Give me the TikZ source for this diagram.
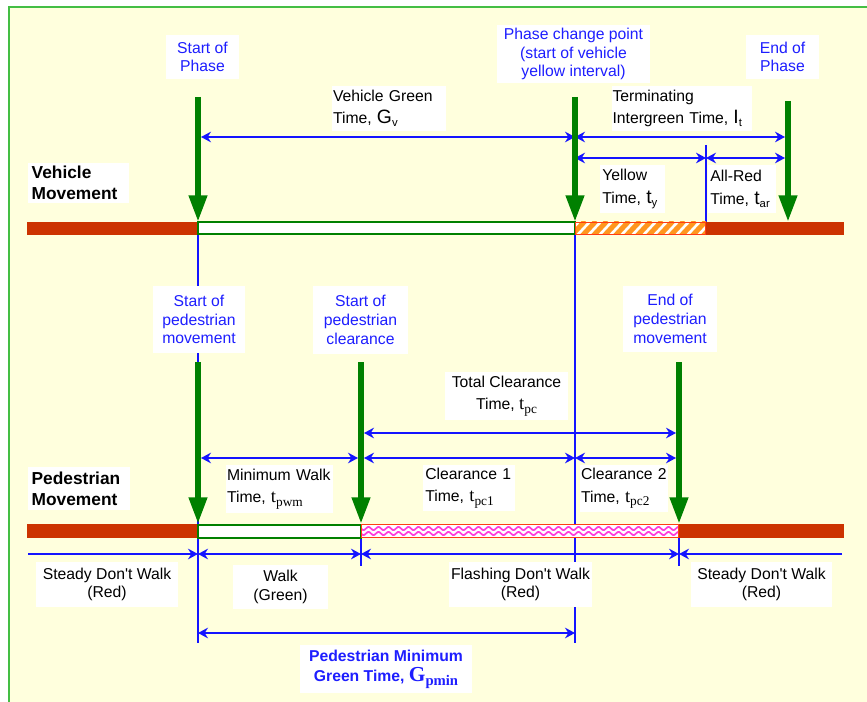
\documentclass[tikz,border=0pt]{standalone}
\usepackage{fontspec}
\setmainfont{Liberation Sans}
\newfontfamily\seriffam{Liberation Serif}
\usetikzlibrary{arrows.meta}
\definecolor{bgyel}{RGB}{255,255,221}
\definecolor{frgreen}{RGB}{68,190,68}
\definecolor{barred}{RGB}{204,51,0}
\definecolor{garr}{RGB}{0,128,0}
\definecolor{lblue}{RGB}{20,20,255}
\definecolor{tblue}{RGB}{30,30,255}
\definecolor{hborder}{RGB}{255,60,20}
\definecolor{horange}{RGB}{255,150,30}
\definecolor{pinkw}{RGB}{255,60,220}
\newcommand\sbs[1]{\raisebox{-0.4ex}{\fontsize{8.5}{10}\selectfont #1}}
\newcommand\bigsym[1]{{\fontsize{14.5}{14}\selectfont #1}}
\newcommand\sertee[1]{{\seriffam\fontsize{14}{14}\selectfont t\raisebox{-0.4ex}{\fontsize{10}{10}\selectfont #1}}}
\newcommand\apos{\textquotesingle}
\begin{document}
\begin{tikzpicture}[x=0.75pt,y=-0.75pt,
  lbl/.style={fill=white, inner sep=0pt, font=\fontsize{11.8}{14}\selectfont, align=center},
  lblL/.style={lbl, align=left},
  bt/.style={text=tblue},
  sz/.style 2 args={minimum width=#1*0.75pt, minimum height=#2*0.75pt},
  lsz/.style 2 args={text width=(#1-2)*0.75pt, inner xsep=1*0.75pt, minimum height=#2*0.75pt},
  garrow/.style={draw=garr, line width=4.5pt, -{Triangle[length=20pt,width=13pt]}},
  dimln/.style={draw=lblue, line width=1.5pt},
  bothh/.style={dimln, {Stealth[length=7.5pt,width=8pt,inset=2.5pt]}-{Stealth[length=7.5pt,width=8pt,inset=2.5pt]}},
  oneh/.style={dimln, -{Stealth[length=7.5pt,width=8pt,inset=2.5pt]}},
  vln/.style={draw=lblue, line width=1.1pt},
  greenbox/.style={fill=white, draw=garr, line width=1.5pt},
]
\useasboundingbox (0,0) rectangle (867,702);
% background
\fill[white] (0,0) rectangle (867,702);
\filldraw[fill=bgyel, draw=frgreen, line width=1.5pt] (9,7) rectangle (880,715);

% ---------- coordinates ----------
\coordinate (G1s) at (198,97);  \coordinate (G1e) at (198,222);
\coordinate (G2s) at (575,97);  \coordinate (G2e) at (575,222);
\coordinate (G3s) at (788,101); \coordinate (G3e) at (788,222);
\coordinate (P1s) at (198,362); \coordinate (P1e) at (198,524);
\coordinate (P2s) at (361,362); \coordinate (P2e) at (361,524);
\coordinate (P3s) at (679,362); \coordinate (P3e) at (679,524);

% ---------- vertical thin blue lines ----------
\coordinate (V198t) at (198,235); \coordinate (V198b) at (198,643);
\coordinate (V575t) at (575,235); \coordinate (V575b) at (575,643);
\coordinate (V706t) at (706,145); \coordinate (V706b) at (706,222);
\coordinate (V361t) at (361,538); \coordinate (V361b) at (361,566);
\coordinate (V679t) at (679,538); \coordinate (V679b) at (679,566);
\draw[vln] (V198t) -- (V198b);
\draw[vln] (V575t) -- (V575b);
\draw[vln] (V706t) -- (V706b);
\draw[vln] (V361t) -- (V361b);
\draw[vln] (V679t) -- (V679b);

% ---------- bars ----------
% vehicle
\fill[barred] (27,222) rectangle (198,235);
\draw[greenbox] (198,222.5) rectangle (575,234.5);
\begin{scope}
  \clip (575,222) rectangle (706,235);
  \fill[white] (575,222) rectangle (706,235);
  \foreach \x in {560,571,...,720} \draw[horange, line width=3.8pt] (\x,236) -- (\x+14,221);
\end{scope}
\draw[hborder, line width=1.3pt] (575.5,222.5) rectangle (705.5,234.5);
\fill[barred] (706,222) rectangle (844,235);
% pedestrian
\fill[barred] (27,524) rectangle (198,538);
\draw[greenbox] (198,524.5) rectangle (361,537.5);
\begin{scope}
  \clip (361,524) rectangle (679,538);
  \fill[white] (361,524) rectangle (679,538);
  \draw[pinkw, line width=1.3pt] plot[domain=0:318, samples=320] ({\x+361},{528.5+1.6*sin(36*\x)});
  \draw[pinkw, line width=1.3pt] plot[domain=0:318, samples=320] ({\x+361},{533.5+1.6*sin(36*\x)});
\end{scope}
\draw[hborder, line width=1.3pt] (361.5,524.5) rectangle (678.5,537.5);
\fill[barred] (679,524) rectangle (844,538);

% ---------- dimension arrows ----------
\coordinate (A1l) at (201,137); \coordinate (A1m) at (575,137); \coordinate (A1r) at (785,137);
\coordinate (A2l) at (575,158); \coordinate (A2m) at (706,158); \coordinate (A2r) at (785,158);
\draw[bothh] (A1l) -- (A1m);
\draw[bothh] (A1m) -- (A1r);
\draw[bothh] (A2l) -- (A2m);
\draw[bothh] (A2m) -- (A2r);
\coordinate (T1l) at (364,433); \coordinate (T1r) at (676,433);
\draw[bothh] (T1l) -- (T1r);
\coordinate (M1a) at (201,458); \coordinate (M1b) at (358,458);
\coordinate (M1c) at (364,458); \coordinate (M1d) at (575,458); \coordinate (M1e) at (676,458);
\draw[bothh] (M1a) -- (M1b);
\draw[bothh] (M1c) -- (M1d);
\draw[bothh] (M1d) -- (M1e);
\coordinate (B0) at (28,554); \coordinate (B1) at (198,554); \coordinate (B2) at (361,554);
\coordinate (B3) at (679,554); \coordinate (B4) at (842,554);
\draw[oneh] (B0) -- (B1);
\draw[bothh] (B1) -- (B2);
\draw[bothh] (B2) -- (B3);
\draw[oneh] (B4) -- (B3);
\coordinate (Gl) at (198,633); \coordinate (Gr) at (575,633);
\draw[bothh] (Gl) -- (Gr);

% ---------- green arrows ----------
\draw[garrow] (G1s) -- (G1e);
\draw[garrow] (G2s) -- (G2e);
\draw[garrow] (G3s) -- (G3e);
\draw[garrow] (P1s) -- (P1e);
\draw[garrow] (P2s) -- (P2e);
\draw[garrow] (P3s) -- (P3e);

% ---------- labels ----------
\node[lbl,bt,sz={73}{44}] (sp) at (202.5,57) {Start of\\Phase};
\node[lbl,bt,sz={153}{58}] (pc) at (573.5,54) {Phase change point\\(start of vehicle\\yellow interval)};
\node[lbl,bt,sz={73}{44}] (ep) at (782.5,57) {End of\\Phase};
\node[lblL,lsz={101}{40},font=\fontsize{13}{15.5}\selectfont\bfseries] (vm) at (78.5,183) {\hspace*{2pt}Vehicle\\\hspace*{2pt}Movement};
\node[lblL,lsz={114}{45}] (gv) at (389,108.5) {Vehicle Green\\[2pt]Time, \bigsym{G}\sbs{v}};
\node[lblL,lsz={140}{45}] (it) at (681.5,108.5) {Terminating\\[2pt]Intergreen Time, \bigsym{I}\sbs{t}};
\node[lblL,lsz={65}{48}] (ty) at (632.5,189) {\hspace*{1pt}Yellow\\[3pt]\hspace*{1pt}Time, \bigsym{t}\sbs{y}};
\node[lblL,lsz={68}{48}] (tar) at (742,189) {\hspace*{1pt}All-Red\\[3pt]\hspace*{1pt}Time, \bigsym{t}\sbs{ar}};

\node[lbl,bt,sz={92}{67}] (spm) at (199,319.5) {Start of\\pedestrian\\movement};
\node[lbl,bt,sz={95}{68}] (spc) at (360.5,320) {Start of\\pedestrian\\clearance};
\node[lbl,bt,sz={94}{66}] (epm) at (670,319) {End of\\pedestrian\\movement};
\node[lbl,sz={123}{48}] (tpc) at (506.5,396) {Total Clearance\\[3pt]Time, \sertee{pc}};
\node[lblL,lsz={102}{43},font=\fontsize{13}{15.5}\selectfont\bfseries] (pm) at (79,488.5) {\hspace*{2pt}Pedestrian\\\hspace*{2pt}Movement};
\node[lblL,lsz={107}{48}] (tpwm) at (279.5,489) {Minimum Walk\\[3pt]Time, \sertee{pwm}};
\node[lblL,lsz={92}{46}] (tpc1) at (469,488) {\hspace*{1pt}Clearance 1\\[3pt]\hspace*{1pt}Time, \sertee{pc1}};
\node[lblL,lsz={88}{47}] (tpc2) at (624,488.5) {Clearance 2\\[3pt]Time, \sertee{pc2}};

\node[lbl,sz={142}{45}] (sdw1) at (107,584.5) {Steady Don\apos t Walk\\(Red)};
\node[lbl,sz={95}{44}] (walk) at (280.5,587) {Walk\\(Green)};
\node[lbl,sz={143}{45}] (fdw) at (520.5,584.5) {Flashing Don\apos t Walk\\(Red)};
\node[lbl,sz={141}{45}] (sdw2) at (761.5,584.5) {Steady Don\apos t Walk\\(Red)};
\node[lbl,bt,sz={172}{48},font=\fontsize{11.8}{15}\selectfont\bfseries] (gpm) at (386,669)
  {Pedestrian Minimum\\Green Time, {\seriffam\bfseries\fontsize{16}{15}\selectfont G\raisebox{-0.4ex}{\fontsize{11}{11}\selectfont pmin}}};
\end{tikzpicture}
\end{document}
